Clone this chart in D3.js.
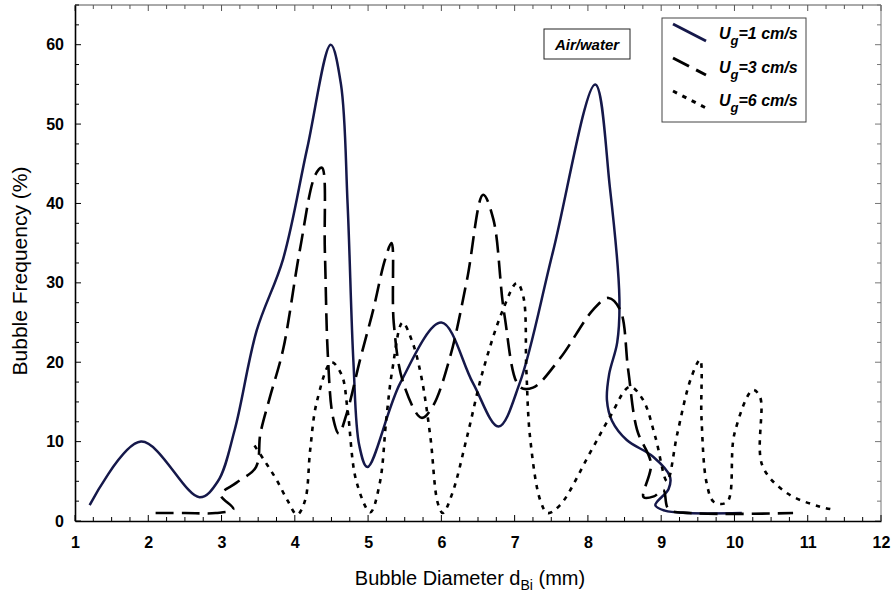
<!DOCTYPE html>
<html><head><meta charset="utf-8">
<script src="https://cdn.jsdelivr.net/npm/d3@7"></script>
<style>body{margin:0;background:#fff}svg{display:block}</style>
</head><body><svg id="c" width="894" height="598"></svg>
<script>
// ---- data ----
const xTickValues = [1,2,3,4,5,6,7,8,9,10,11,12];
const yTickValues = [0,10,20,30,40,50,60];
const seriesLabels = ["1 cm/s","3 cm/s","6 cm/s"];
const annotation = "Air/water";

// Ug = 1 cm/s (solid)
const ug1 = [[1.2,2],[1.9,10],[2.7,3],[2.95,5],[3.18,11.5],[3.48,24],[3.84,33],[4.17,47],[4.49,60],[4.63,55],[4.72,40],[4.8,20],[4.88,9.5],[4.99,6.8],[5.44,17.4],[6.0,25],[6.43,17.4],[6.78,11.9],[7.07,17.4],[7.52,33.8],[8.1,55],[8.3,42],[8.43,28],[8.4,22.5],[8.29,18.5],[8.26,15.2],[8.33,12.6],[8.53,10.2],[8.89,8.1],[9.12,5.6],[9.1,4.0],[8.92,2.0],[9.05,1.3],[9.35,1.0],[10.1,1.0]];

// Ug = 3 cm/s (dashed)
const ug3 = [[2.1,1],[2.5,1],[2.92,1],[3.16,1.5],[2.99,3.3],[3.2,4.8],[3.47,6.8],[3.53,11],[3.66,15.6],[3.84,21.6],[4.07,34.2],[4.28,43.6],[4.37,44.5],[4.41,34],[4.45,21],[4.52,13.1],[4.6,11],[4.71,13.6],[4.89,20.3],[5.07,26.6],[5.23,32.9],[5.32,35],[5.35,25],[5.48,17.4],[5.73,13],[5.88,14.4],[6.12,20.7],[6.35,30.4],[6.57,41.1],[6.71,38],[6.86,26],[7.07,16.9],[7.25,16.8],[7.62,20.5],[8.07,26.6],[8.28,28.1],[8.44,26.6],[8.55,19],[8.67,11.5],[8.86,7.2],[8.76,3],[8.9,3.1],[9.03,3.9],[9.1,1.5],[9.4,1],[10.8,1]];

// Ug = 6 cm/s (dotted)
const ug6 = [[3.45,9.5],[3.6,7.4],[3.75,5.2],[3.9,2.6],[4.03,0.8],[4.14,2.6],[4.21,9],[4.3,15],[4.5,20],[4.64,18.4],[4.72,14],[4.84,5],[5.03,1.1],[5.16,4.8],[5.25,13],[5.33,19],[5.47,25],[5.61,22.4],[5.73,18],[5.85,10.6],[5.95,2.3],[6.02,1],[6.15,3.5],[6.35,10.6],[6.57,19],[6.84,26.6],[7.03,30],[7.12,28.2],[7.16,19],[7.21,10.6],[7.35,2.6],[7.45,1],[7.62,2],[8.03,8.6],[8.3,13.1],[8.57,16.9],[8.75,15.3],[8.92,10.6],[9.08,5],[9.22,11],[9.4,17.8],[9.53,20.3],[9.55,13],[9.62,4.8],[9.72,2.4],[9.9,2.4],[10.0,11],[10.25,16.5],[10.35,15.6],[10.38,7],[10.72,3.5],[11.17,1.8],[11.37,1.4]];

// ---- drawing ----
const svg = d3.select("#c");
const L = 75, R = 881, T = 5, B = 521;
const x = d3.scaleLinear().domain([1,12]).range([L,R]);
const y = d3.scaleLinear().domain([0,65]).range([B,T]);
const font = "'Liberation Sans', Arial, sans-serif";

// frame
svg.append("line").attr("x1",L).attr("x2",R).attr("y1",T).attr("y2",T).attr("stroke","#555").attr("stroke-width",1);
svg.append("line").attr("x1",R).attr("x2",R).attr("y1",T).attr("y2",B).attr("stroke","#777").attr("stroke-width",1);

const xMinor = d3.range(1,12.001,0.25);
const yMinor = d3.range(0,65.001,2.5);
// inner ticks
const tg = svg.append("g").attr("stroke","#000").attr("stroke-width",1);
xMinor.forEach(v=>{
  const maj = Math.abs(v-Math.round(v))<1e-6;
  const len = maj?6:4;
  tg.append("line").attr("x1",x(v)).attr("x2",x(v)).attr("y1",B).attr("y2",B-len);
  tg.append("line").attr("x1",x(v)).attr("x2",x(v)).attr("y1",T).attr("y2",T+len).attr("stroke","#555");
});
yMinor.forEach(v=>{
  const maj = Math.abs(v/10-Math.round(v/10))<1e-6;
  const len = maj?6:4;
  tg.append("line").attr("x1",L).attr("x2",L+len).attr("y1",y(v)).attr("y2",y(v));
  tg.append("line").attr("x1",R).attr("x2",R-len).attr("y1",y(v)).attr("y2",y(v)).attr("stroke","#777");
});

// axes via d3
const xAxis = d3.axisBottom(x).tickValues(xTickValues).tickSize(0).tickPadding(16).tickFormat(d3.format("d"));
const yAxis = d3.axisLeft(y).tickValues(yTickValues).tickSize(0).tickPadding(11).tickFormat(d3.format("d"));
const gx = svg.append("g").attr("transform",`translate(0,${B})`).call(xAxis);
const gy = svg.append("g").attr("transform",`translate(${L},0)`).call(yAxis);
[gx,gy].forEach(g=>{
  g.select(".domain").attr("stroke","#000").attr("stroke-width",1.6);
  g.selectAll("text").attr("font-family",font).attr("font-weight","bold").attr("font-size",16).attr("fill","#000");
});

// axis titles
const xt = svg.append("text").attr("x",470).attr("y",585).attr("text-anchor","middle")
  .attr("font-family",font).attr("font-size",20).attr("fill","#000");
xt.append("tspan").text("Bubble Diameter d");
xt.append("tspan").attr("font-size",14).attr("dy",5).text("Bi");
xt.append("tspan").attr("dy",-5).text(" (mm)");

svg.append("text").attr("transform","translate(27,271) rotate(-90)").attr("text-anchor","middle")
  .attr("font-family",font).attr("font-size",21).attr("fill","#000").text("Bubble Frequency (%)");

// curves
const line = d3.line().x(d=>x(d[0])).y(d=>y(d[1])).curve(d3.curveCatmullRom.alpha(0.5));
const styles = [
  {data:ug1, stroke:"#15184a", dash:null, w:2.5},
  {data:ug3, stroke:"#000", dash:"18,8", w:2.6},
  {data:ug6, stroke:"#000", dash:"4.5,6", w:2.6}
];
styles.forEach(s=>{
  svg.append("path").attr("d",line(s.data)).attr("fill","none").attr("stroke",s.stroke)
    .attr("stroke-width",s.w).attr("stroke-dasharray",s.dash).attr("stroke-linejoin","round");
});

// annotation box
svg.append("rect").attr("x",544).attr("y",29).attr("width",86).attr("height",30)
  .attr("fill","#fff").attr("stroke","#222").attr("stroke-width",1);
svg.append("text").attr("x",587).attr("y",50).attr("text-anchor","middle")
  .attr("font-family",font).attr("font-weight","bold").attr("font-style","italic").attr("font-size",15)
  .attr("fill","#000").text(annotation);

// legend
svg.append("rect").attr("x",662).attr("y",18).attr("width",144).attr("height",104)
  .attr("fill","#fff").attr("stroke","#444").attr("stroke-width",1);
const legY = [33,67,100];
styles.forEach((s,i)=>{
  svg.append("line").attr("x1",673).attr("y1",legY[i]-9).attr("x2",706).attr("y2",legY[i]+8)
    .attr("stroke",s.stroke).attr("stroke-width",s.w+0.4).attr("stroke-dasharray",s.dash);
  const t = svg.append("text").attr("x",719).attr("y",legY[i]+6)
    .attr("font-family",font).attr("font-weight","bold").attr("font-style","italic").attr("font-size",16).attr("fill","#000");
  t.append("tspan").text("U");
  t.append("tspan").attr("font-size",13).attr("dy",6).text("g");
  t.append("tspan").attr("dy",-6).text("=" + seriesLabels[i]);
});
</script></body></html>
